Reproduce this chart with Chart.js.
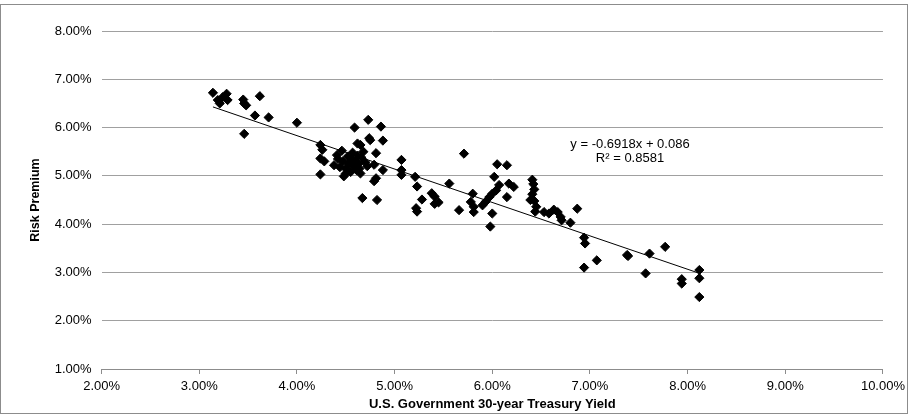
<!DOCTYPE html>
<html>
<head>
<meta charset="utf-8">
<script src="https://cdn.jsdelivr.net/npm/chart.js@4/dist/chart.umd.min.js"></script>
<style>
  html, body { margin: 0; padding: 0; background: #fff; }
  #wrap { position: relative; width: 910px; height: 415px; }
</style>
</head>
<body>
<div id="wrap"><canvas id="scatter" width="910" height="415"></canvas></div>
<script>
// Treasury yield (%)
const yieldPct = [
  3.14, 3.19, 3.21, 3.24, 3.28, 3.29, 3.45, 3.46, 3.48, 3.46, 3.57, 3.62, 3.71, 4.00,
  4.24, 4.26, 4.24, 4.28, 4.24, 4.38, 4.41, 4.46, 4.42, 4.47, 4.44, 4.48, 4.50, 4.50,
  4.52, 4.53, 4.55, 4.56, 4.57, 4.58, 4.59, 4.60, 4.61, 4.62, 4.62, 4.63, 4.64, 4.65,
  4.65, 4.66, 4.67, 4.68, 4.70, 4.72, 4.73, 4.74, 4.75, 4.79, 4.79, 4.81, 4.81, 4.82,
  4.86, 4.88, 4.88, 5.07, 5.07, 5.07, 5.21, 5.23, 5.22, 5.23, 5.28, 5.38, 5.41, 5.41,
  5.45, 5.56, 5.66, 5.71, 5.80, 5.78, 5.81, 5.81, 5.90, 5.93, 5.97, 6.00, 6.04, 6.07,
  6.02, 6.05, 6.15, 6.17, 6.22, 6.15, 6.00, 5.98, 6.41, 6.42, 6.43, 6.41, 6.39, 6.43,
  6.45, 6.44, 6.53, 6.58, 6.63, 6.67, 6.70, 6.71, 6.80, 6.87, 6.94, 6.95, 6.94, 7.07,
  7.38, 7.39, 7.57, 7.61, 7.77, 7.94, 7.94, 8.12, 8.12, 8.12
];
// Risk premium (%) for each yield above
const premiumPct = [
  6.72, 6.57, 6.50, 6.63, 6.70, 6.57, 6.58, 6.50, 6.46, 5.87, 6.25, 6.65, 6.21, 6.10,
  5.64, 5.54, 5.36, 5.30, 5.03, 5.22, 5.43, 5.52, 5.35, 5.30, 5.18, 4.99, 5.05, 5.15,
  5.40, 5.25, 5.08, 5.35, 5.48, 5.20, 6.00, 5.30, 5.12, 5.42, 5.67, 5.25, 5.15, 5.64,
  5.05, 5.38, 4.54, 5.50, 5.28, 5.20, 6.16, 5.78, 5.74, 5.23, 4.89, 5.47, 4.95, 4.50,
  6.02, 5.73, 5.12, 5.33, 5.12, 5.02, 4.98, 4.78, 4.33, 4.26, 4.51, 4.64, 4.57, 4.42,
  4.45, 4.84, 4.29, 5.46, 4.63, 4.46, 4.36, 4.25, 4.39, 4.46, 4.56, 4.63, 4.70, 4.81,
  4.98, 5.24, 5.22, 4.84, 4.77, 4.56, 4.22, 3.95, 4.92, 4.83, 4.72, 4.62, 4.50, 4.48,
  4.36, 4.26, 4.25, 4.22, 4.30, 4.25, 4.15, 4.08, 4.03, 4.32, 3.72, 3.60, 3.10, 3.25,
  3.36, 3.34, 2.98, 3.39, 3.53, 2.86, 2.77, 3.05, 2.88, 2.49
];

// linear trendline shown on the chart: y = -0.6918x + 0.086
const slope = -0.6918;
const intercept = 0.086;
const equationText = ['y = -0.6918x + 0.086', 'R\u00b2 = 0.8581'];

const xAxisTitle = 'U.S. Government 30-year Treasury Yield';
const yAxisTitle = 'Risk Premium';

const points = yieldPct.map((x, i) => ({ x: x, y: premiumPct[i] }));
const xMin = Math.min(...yieldPct);
const xMax = Math.max(...yieldPct);
const trend = [xMin, xMax].map(x => ({ x: x, y: (intercept + slope * x / 100) * 100 }));

const FONT = "'Liberation Sans', Arial, sans-serif";

// outer frame and the equation label
const extras = {
    id: 'extras',
    beforeDraw(chart) {
        const ctx = chart.ctx;
        ctx.save();
        ctx.strokeStyle = '#8c8c8c';
        ctx.lineWidth = 1;
        ctx.strokeRect(0.5, 4.5, 907, 409);
        ctx.restore();
    },
    afterDatasetsDraw(chart) {
        const ctx = chart.ctx;
        const xs = chart.scales.x, ys = chart.scales.y;
        ctx.save();
        ctx.fillStyle = '#000';
        ctx.font = '13px ' + FONT;
        ctx.textAlign = 'center';
        ctx.textBaseline = 'middle';
        ctx.fillText(equationText[0], xs.getPixelForValue(7.41), ys.getPixelForValue(5.66));
        ctx.fillText(equationText[1], xs.getPixelForValue(7.41), ys.getPixelForValue(5.36));
        ctx.restore();
    }
};

const ctx = document.getElementById('scatter').getContext('2d');
new Chart(ctx, {
    type: 'scatter',
    data: {
        datasets: [
            {
                label: 'Trend',
                type: 'line',
                data: trend,
                borderColor: '#000',
                borderWidth: 1,
                pointRadius: 0,
                fill: false,
                order: 0,
            },
            {
                label: 'Risk Premium',
                data: points,
                pointStyle: 'rectRot',
                pointRadius: 4.6,
                pointBorderWidth: 1,
                backgroundColor: '#000',
                borderColor: '#000',
                order: 1,
            },
        ],
    },
    options: {
        responsive: false,
        animation: false,
        layout: { padding: { left: 0, right: 25, top: 31, bottom: 0 } },
        plugins: {
            legend: { display: false },
            tooltip: { enabled: false },
        },
        scales: {
            x: {
                type: 'linear',
                min: 2,
                max: 10,
                afterFit(scale) { scale.height = 46; },
                border: { display: true, color: '#8c8c8c', width: 1 },
                grid: {
                    drawOnChartArea: false,
                    drawTicks: true,
                    tickLength: 5,
                    color: '#8c8c8c',
                },
                ticks: {
                    stepSize: 1,
                    padding: 5,
                    color: '#000',
                    font: { family: FONT, size: 13 },
                    maxRotation: 0,
                    callback: v => v.toFixed(2) + '%',
                },
                title: {
                    display: true,
                    text: xAxisTitle,
                    color: '#000',
                    font: { family: FONT, size: 13, weight: 'bold' },
                    padding: { top: 0, bottom: 3 },
                },
            },
            y: {
                type: 'linear',
                min: 1,
                max: 8,
                afterFit(scale) { scale.width = 101.6; },
                border: { display: false },
                grid: {
                    drawTicks: false,
                    color: '#a0a0a0',
                    lineWidth: 1,
                },
                ticks: {
                    stepSize: 1,
                    padding: 10,
                    color: '#000',
                    font: { family: FONT, size: 13 },
                    callback: v => v.toFixed(2) + '%',
                },
                title: {
                    display: true,
                    text: yAxisTitle,
                    color: '#000',
                    font: { family: FONT, size: 12.5, weight: 'bold' },
                    padding: { top: 27.8, bottom: 0 },
                },
            },
        },
    },
    plugins: [extras],
});
</script>
</body>
</html>
